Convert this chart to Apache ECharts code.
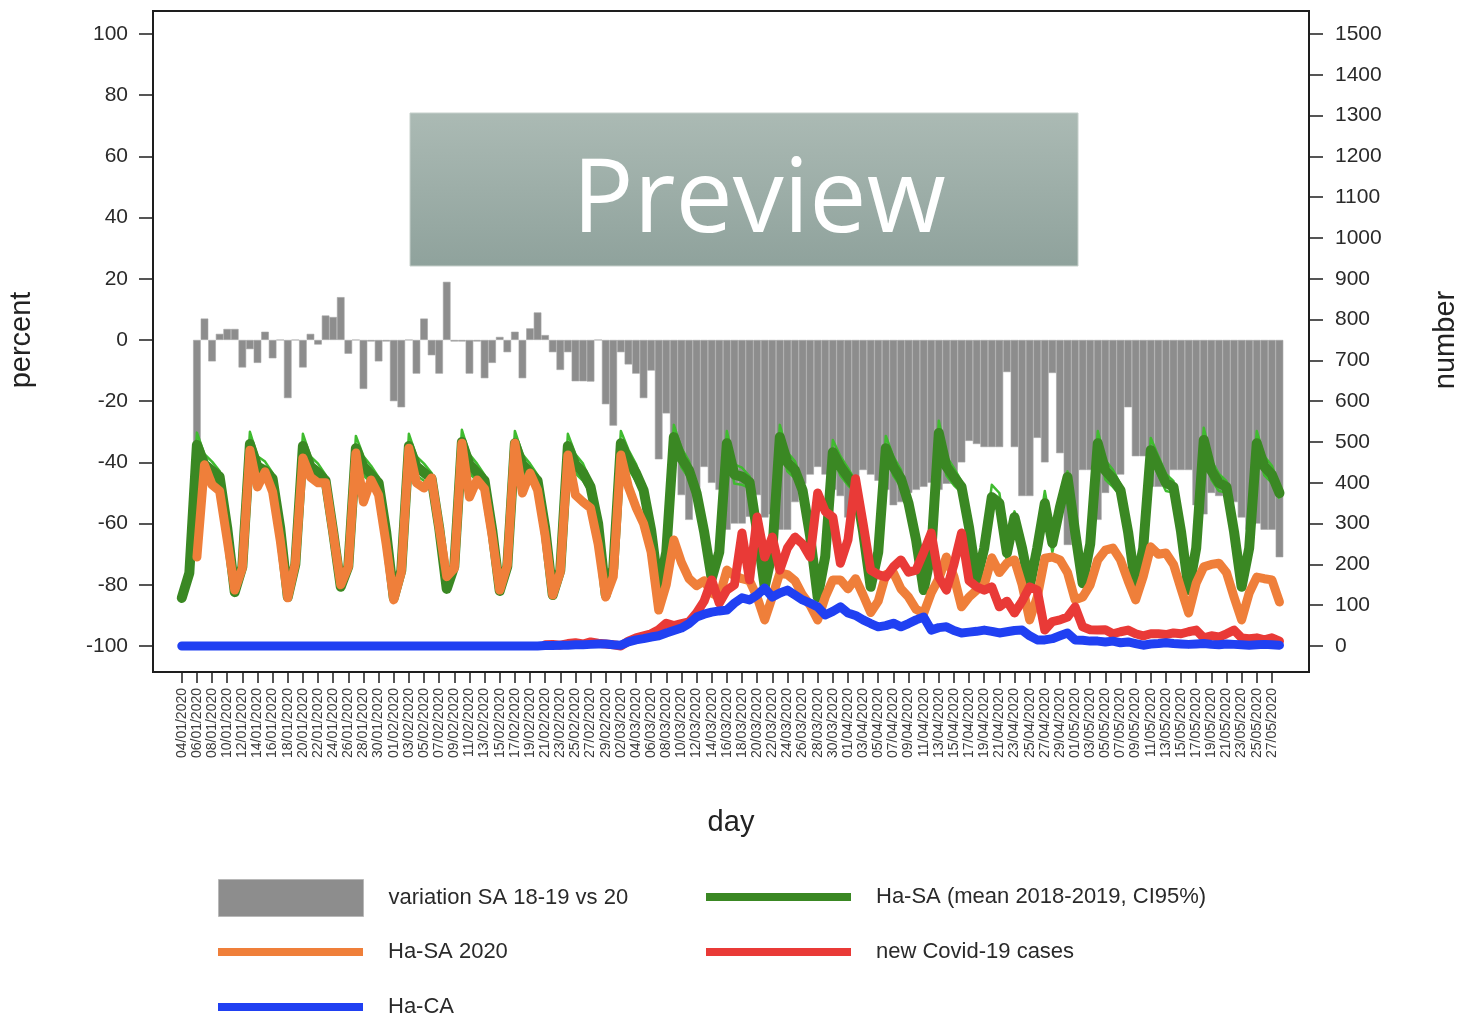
<!DOCTYPE html>
<html>
<head>
<meta charset="utf-8">
<title>Ha-SA / Ha-CA 2020</title>
<script src="https://cdn.jsdelivr.net/npm/echarts@6/dist/echarts.min.js"></script>
<style>
  html, body { margin: 0; padding: 0; background: #fff; }
  #chart { width: 1462px; height: 1020px; }
</style>
</head>
<body>
<div id="chart"></div>
<script>
// one value per day, day 0 = 04/01/2020 (saturday), last day = 28/05/2020
const tickLabels = [
  '04/01/2020','06/01/2020','08/01/2020','10/01/2020','12/01/2020','14/01/2020','16/01/2020','18/01/2020','20/01/2020','22/01/2020','24/01/2020','26/01/2020','28/01/2020','30/01/2020',
  '01/02/2020','03/02/2020','05/02/2020','07/02/2020','09/02/2020','11/02/2020','13/02/2020','15/02/2020','17/02/2020','19/02/2020','21/02/2020','23/02/2020','25/02/2020','27/02/2020','29/02/2020',
  '02/03/2020','04/03/2020','06/03/2020','08/03/2020','10/03/2020','12/03/2020','14/03/2020','16/03/2020','18/03/2020','20/03/2020','22/03/2020','24/03/2020','26/03/2020','28/03/2020','30/03/2020',
  '01/04/2020','03/04/2020','05/04/2020','07/04/2020','09/04/2020','11/04/2020','13/04/2020','15/04/2020','17/04/2020','19/04/2020','21/04/2020','23/04/2020','25/04/2020','27/04/2020','29/04/2020',
  '01/05/2020','03/05/2020','05/05/2020','07/05/2020','09/05/2020','11/05/2020','13/05/2020','15/05/2020','17/05/2020','19/05/2020','21/05/2020','23/05/2020','25/05/2020','27/05/2020'
]

// variation SA 18-19 vs 20 (percent, left axis)
const variationSA = [
  null,null,-34,7,-7,2,3.6,
  3.6,-9,-3,-7.5,2.7,-6,0,
  -19,0,-9,2,-1.5,8,7.5,
  14,-4.5,0,-16,-0.5,-7,-0.5,
  -20,-22,0,-11,7,-5,-11,
  19,-0.5,-0.5,-11,-0.5,-12.5,-7.5,
  1,-4,2.7,-12.5,3.8,9,1.6,
  -4,-9.8,-4,-13.5,-13.5,-13.6,0,
  -21,-28,-4,-8,-11,-19,-10,
  -39,-24,-40,-50.7,-58.8,-50,-41.5,
  -46.7,-49,-62,-60,-60,-57.8,-50.7,
  -58,-57,-62,-62,-53,-47,-44,
  -41.5,-44,-49,-51,-58,-57,-42.5,
  -44,-46,-49,-54,-53,-50,-49,
  -48,-46.7,-49,-47,-47,-40,-33,
  -34,-35,-35,-35,-10.5,-35,-51,
  -51,-32,-40,-10.8,-37,-67,-67,
  -42.5,-42.5,-58.8,-50,-44,-44,-22,
  -38,-38,-48,-48,-45,-42.5,-42.5,
  -42.5,-54,-57,-50,-51,-51,-53,
  -58,-62,-60,-62,-62,-71
]

// Ha-SA mean 2018-2019 (number, right axis)
const haSaMean = [
  118,179,493,445,430,415,290,
  132,194,495,440,430,410,290,
  120,200,490,440,425,405,280,
  145,195,485,440,420,400,280,
  118,185,490,440,425,410,290,
  140,195,500,445,425,405,285,
  135,195,497,445,425,405,290,
  125,185,490,445,425,390,300,
  125,190,497,456,424,382,284,
  137,230,512,460,431,375,280,
  165,230,497,420,415,402,280,
  145,230,512,450,431,382,270,
  120,220,475,440,414,390,280,
  145,230,485,439,410,350,260,
  137,230,522,440,414,390,290,
  162,240,365,350,228,316,240,
  145,240,350,252,340,414,280,
  154,250,497,430,410,382,280,
  145,240,480,440,400,390,280,
  137,240,505,430,400,390,280,
  145,240,497,440,420,375
]

// CI95% bounds of the 2018-2019 mean
const haSaUpper = [
  126,191,523,470,452,429,300,
  140,206,525,465,452,424,300,
  128,212,520,465,447,419,290,
  153,207,515,465,442,414,290,
  126,197,520,465,447,424,300,
  148,207,530,470,447,419,295,
  143,207,527,470,447,419,300,
  133,197,520,470,447,404,310,
  133,202,527,481,446,396,294,
  145,242,542,485,453,389,290,
  173,242,527,445,437,416,290,
  153,242,542,475,453,396,280,
  128,232,505,465,436,404,290,
  153,242,515,464,432,364,270,
  145,242,552,465,436,404,300,
  170,252,395,375,250,330,250,
  153,252,380,277,362,428,290,
  162,262,527,455,432,396,290,
  153,252,510,465,422,404,290,
  145,252,535,455,422,404,290,
  153,252,527,465,442,389
]
const haSaLower = [
  112,169,483,423,410,401,280,
  126,184,485,418,410,396,280,
  114,190,480,418,405,391,270,
  139,185,475,418,400,386,270,
  112,175,480,418,405,396,280,
  134,185,490,423,405,391,275,
  129,185,487,423,405,391,280,
  119,175,480,423,405,376,290,
  119,180,487,434,404,368,274,
  131,220,502,438,411,361,270,
  159,220,487,398,395,388,270,
  139,220,502,428,411,368,260,
  114,210,465,418,394,376,270,
  139,220,475,417,390,336,250,
  131,220,512,418,394,376,280,
  156,230,355,325,206,302,230,
  139,230,340,230,320,400,270,
  148,240,487,408,390,368,270,
  139,230,470,418,380,376,270,
  131,230,495,408,380,376,270,
  139,230,487,418,400,361
]

// Ha-SA 2020
const haSa2020 = [
  null,null,218,444,395,380,260,
  137,191,480,390,427,378,260,
  118,203,461,414,400,400,277,
  150,194,473,353,407,370,250,
  113,181,485,400,387,412,290,
  170,190,497,365,407,385,270,
  137,198,497,375,424,382,270,
  125,181,468,370,353,338,250,
  120,170,468,390,340,300,230,
  88,150,260,205,165,148,160,
  130,120,186,172,165,160,120,
  64,120,179,175,160,125,100,
  64,120,162,162,140,165,125,
  82,110,175,180,140,120,90,
  80,130,165,218,170,96,120,
  137,150,216,180,203,211,150,
  64,120,215,218,211,180,113,
  120,150,211,235,240,211,160,
  113,170,243,225,228,200,140,
  81,154,194,200,203,180,120,
  64,130,169,165,162,108
]

// new Covid-19 cases, starting 21/02/2020 (day 48)
const covidStartDay = 48
const covidCases = [
  3,4,2,6,8,5,10,7,5,3,
  0,12,20,25,30,40,56,50,55,59,
  81,110,162,105,137,150,277,162,316,218,
  267,186,240,267,250,218,375,330,316,203,
  260,410,300,186,175,169,194,211,181,186,
  230,277,169,137,200,277,160,145,137,145,
  96,110,81,110,145,137,39,60,64,71,
  96,47,40,39,40,30,35,39,30,25,
  30,30,28,32,30,35,39,20,25,22,
  30,39,20,18,20,15,20,12
]

// Ha-CA
const haCa = [
  0,0,0,0,0,0,0,0,0,0,
  0,0,0,0,0,0,0,0,0,0,
  0,0,0,0,0,0,0,0,0,0,
  0,0,0,0,0,0,0,0,0,0,
  0,0,0,0,0,0,0,0,
  1,1,2,2,3,3,4,5,
  5,3,2,10,15,18,22,25,32,38,
  44,55,71,78,83,86,88,105,118,113,
  125,142,120,130,137,125,113,105,96,76,
  85,96,81,75,64,55,47,50,56,47,
  55,64,71,39,45,47,38,32,34,36,
  39,36,32,35,38,39,25,15,15,18,
  25,32,15,14,12,12,10,12,8,10,
  6,2,5,6,8,6,5,4,5,6,
  4,3,5,4,3,2,3,4,3,2
]

const percentTicks = [-100, -80, -60, -40, -20, 0, 20, 40, 60, 80, 100]
const numberTicks = [0, 100, 200, 300, 400, 500, 600, 700, 800, 900, 1000, 1100, 1200, 1300, 1400, 1500]

const toPoints = (arr, start = 0) => arr.map((v, i) => [i + start, v])
const tickDays = tickLabels.map((d, k) => k * 2)

const axisColor = '#1e1e1e'
const textColor = '#2a2a2a'
const font = 'Liberation Sans'

const legendBase = {
    orient: 'horizontal',
    padding: 0,
    icon: 'rect',
    itemWidth: 145,
    itemHeight: 8,
    selectedMode: false,
    textStyle: {
        fontFamily: font,
        fontSize: 22,
        color: textColor,
        lineHeight: 30,
        padding: [0, 0, 0, 20]
    }
}

const chart = echarts.init(document.getElementById('chart'))
chart.setOption({
    animation: false,
    backgroundColor: '#fff',
    grid: {
        left: 153,
        right: 153,
        top: 11,
        bottom: 348,
        containLabel: false,
        outerBoundsMode: 'none',
        show: true,
        borderColor: axisColor,
        borderWidth: 2
    },
    xAxis: {
        type: 'value',
        min: -3.8,
        max: 148.9,
        splitLine: { show: false },
        axisLine: { show: true, onZero: false, lineStyle: { color: axisColor, width: 2 } },
        axisTick: {
            show: true,
            length: 11,
            customValues: tickDays,
            lineStyle: { color: axisColor, width: 1.5 }
        },
        axisLabel: {
            customValues: tickDays,
            rotate: 90,
            margin: 16,
            fontFamily: font,
            fontSize: 14,
            color: '#3a3a3a',
            formatter: v => tickLabels[Math.round(v / 2)] || ''
        }
    },
    yAxis: [{
        type: 'value',
        position: 'left',
        min: -108.5,
        max: 107.5,
        splitLine: { show: false },
        axisLine: { show: true, onZero: false, lineStyle: { color: axisColor, width: 2 } },
        axisTick: {
            show: true,
            length: 14,
            customValues: percentTicks,
            lineStyle: { color: axisColor, width: 1.5 }
        },
        axisLabel: {
            customValues: percentTicks,
            margin: 25,
            fontFamily: font,
            fontSize: 21,
            color: textColor,
            formatter: v => String(v)
        }
    }, {
        type: 'value',
        position: 'right',
        min: -63.7,
        max: 1556.4,
        splitLine: { show: false },
        axisLine: { show: true, onZero: false, lineStyle: { color: axisColor, width: 2 } },
        axisTick: {
            show: true,
            length: 14,
            customValues: numberTicks,
            lineStyle: { color: axisColor, width: 1.5 }
        },
        axisLabel: {
            customValues: numberTicks,
            margin: 26,
            fontFamily: font,
            fontSize: 21,
            color: textColor,
            formatter: v => String(v)
        }
    }],
    legend: [
        Object.assign({}, legendBase, {
            left: 218, top: 879, itemHeight: 37,
            data: ['variation SA 18-19 vs 20'],
            itemStyle: { borderColor: '#b8b8b8', borderWidth: 1 }
        }),
        Object.assign({}, legendBase, { left: 218, top: 937, data: ['Ha-SA 2020'] }),
        Object.assign({}, legendBase, { left: 218, top: 992, data: ['Ha-CA'] }),
        Object.assign({}, legendBase, { left: 706, top: 882, data: ['Ha-SA (mean 2018-2019, CI95%)'] }),
        Object.assign({}, legendBase, { left: 706, top: 937, data: ['new Covid-19 cases'] })
    ],
    graphic: [
        {
            type: 'text', x: 22, y: 340, rotation: Math.PI / 2,
            style: { text: 'percent', fontFamily: font, fontSize: 29, fill: '#222', align: 'center', verticalAlign: 'middle' }
        },
        {
            type: 'text', x: 1446, y: 340, rotation: Math.PI / 2,
            style: { text: 'number', fontFamily: font, fontSize: 29, fill: '#222', align: 'center', verticalAlign: 'middle' }
        },
        {
            type: 'text', x: 731, y: 823,
            style: { text: 'day', fontFamily: font, fontSize: 29, fill: '#222', align: 'center', verticalAlign: 'middle' }
        },
        // preview stamp laid over the picture
        {
            type: 'rect', z: 100,
            shape: { x: 410, y: 113, width: 668, height: 153 },
            style: {
                fill: new echarts.graphic.LinearGradient(0, 0, 0, 1, [
                    { offset: 0, color: '#abbab4' },
                    { offset: 1, color: '#8fa29c' }
                ]),
                stroke: '#c6d0cb',
                lineWidth: 1
            }
        },
        {
            type: 'text', z: 101, x: 759, y: 203,
            style: { text: 'Preview', fontFamily: 'Open Sans', fontSize: 102, fill: '#ffffff', align: 'center', verticalAlign: 'middle' }
        }
    ],
    series: [{
        name: 'variation SA 18-19 vs 20',
        type: 'bar',
        yAxisIndex: 0,
        barWidth: 7.6,
        z: 2,
        color: '#8d8d8d',
        itemStyle: { color: '#8d8d8d', borderColor: '#a4a4a4', borderWidth: 0.6 },
        data: toPoints(variationSA)
    }, {
        name: 'CI95 upper',
        type: 'line',
        yAxisIndex: 1,
        z: 3,
        symbol: 'none',
        lineStyle: { color: '#3fbb2f', width: 2.5, join: 'round' },
        data: toPoints(haSaUpper)
    }, {
        name: 'CI95 lower',
        type: 'line',
        yAxisIndex: 1,
        z: 3,
        symbol: 'none',
        lineStyle: { color: '#3fbb2f', width: 2.5, join: 'round' },
        data: toPoints(haSaLower)
    }, {
        name: 'Ha-SA (mean 2018-2019, CI95%)',
        type: 'line',
        yAxisIndex: 1,
        z: 4,
        symbol: 'none',
        color: '#3a8823',
        lineStyle: { color: '#3a8823', width: 10, cap: 'round', join: 'round' },
        data: toPoints(haSaMean)
    }, {
        name: 'Ha-SA 2020',
        type: 'line',
        yAxisIndex: 1,
        z: 5,
        symbol: 'none',
        color: '#ef7f3a',
        lineStyle: { color: '#ef7f3a', width: 9, cap: 'round', join: 'round' },
        data: toPoints(haSa2020)
    }, {
        name: 'new Covid-19 cases',
        type: 'line',
        yAxisIndex: 1,
        z: 6,
        symbol: 'none',
        color: '#e93a37',
        lineStyle: { color: '#e93a37', width: 9, cap: 'round', join: 'round' },
        data: toPoints(covidCases, covidStartDay)
    }, {
        name: 'Ha-CA',
        type: 'line',
        yAxisIndex: 1,
        z: 7,
        symbol: 'none',
        color: '#2040f2',
        lineStyle: { color: '#2040f2', width: 9, cap: 'round', join: 'round' },
        data: toPoints(haCa)
    }]
})
</script>
</body>
</html>
